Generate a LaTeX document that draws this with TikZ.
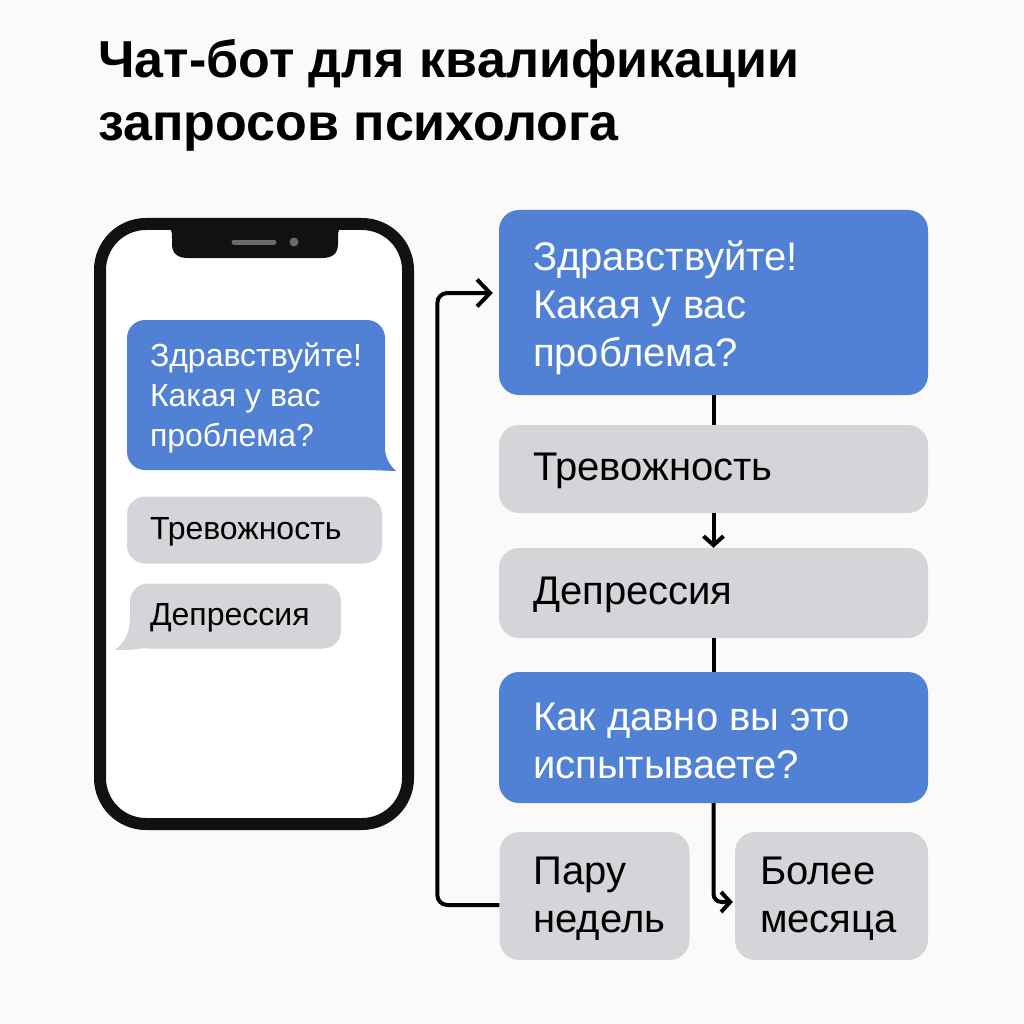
\documentclass[tikz,border=0pt]{standalone}
\usepackage{fontspec}
\setmainfont{Liberation Sans}
\usetikzlibrary{arrows.meta}
\definecolor{bg}{HTML}{FBFAF8}
\definecolor{bubbleblue}{HTML}{5081D5}
\definecolor{bubblegray}{HTML}{D4D5D8}
\definecolor{phoneblack}{HTML}{111111}
\definecolor{notchgray}{HTML}{6A6A6A}
\begin{document}
\begin{tikzpicture}[x=1pt,y=-1pt,
  flowbox/.style={rounded corners=20pt, inner sep=0pt, anchor=center},
  bluebox/.style={flowbox, fill=bubbleblue},
  graybox/.style={flowbox, fill=bubblegray},
  flowtext/.style={anchor=west, inner sep=0pt, align=left,
    font=\fontsize{40}{48}\selectfont},
  phonebubble/.style={rounded corners=18pt, inner sep=0pt, anchor=center},
  phonetext/.style={anchor=west, inner sep=0pt, align=left,
    font=\fontsize{32}{40}\selectfont},
  link/.style={line width=4pt, draw=black},
  tipsmall/.style={-{Straight Barb[length=9pt,width=20pt]}},
  tipbig/.style={-{Straight Barb[length=13pt,width=27pt]}}
]
\useasboundingbox (0,0) rectangle (1024,1024);
\fill[bg] (0,0) rectangle (1024,1024);

% title
\node[anchor=west, align=left, inner sep=0pt, font=\bfseries\fontsize{52}{63}\selectfont]
  (title) at (98,95) {Чат-бот для квалификации\\запросов психолога};

% phone
\draw[line width=12pt, draw=phoneblack, fill=white, rounded corners=46pt] (100,224) rectangle (408,824);
\fill[phoneblack] (164,224) .. controls (171,226) and (172,230) .. (172,238) -- (172,244)
  .. controls (172,254) and (178,258) .. (188,258) -- (322,258)
  .. controls (332,258) and (338,254) .. (338,244) -- (338,238)
  .. controls (338,230) and (339,226) .. (346,224) -- cycle;
\draw[notchgray, line width=5pt, line cap=round] (234,242) -- (274,242);
\fill[notchgray] (294,242) circle (4.5pt);

% phone bubbles
\fill[bubbleblue] (368,470) .. controls (382,470) .. (396,471)
  .. controls (386,462) and (384,452) .. (384,436) -- (368,436) -- cycle;
\node[phonebubble, fill=bubbleblue, minimum width=258pt, minimum height=150pt] (pq) at (256,395) {};
\node[phonetext, text=white] (pqt) at ([xshift=23pt, yshift=-3pt]pq.west) {Здравствуйте!\\Какая у вас\\проблема?};
\node[phonebubble, fill=bubblegray, minimum width=255pt, minimum height=67pt] (pa1) at (254.5,530) {};
\node[phonetext] (pa1t) at ([xshift=23pt, yshift=-2pt]pa1.west) {Тревожность};
\fill[bubblegray] (145,648) .. controls (130,650) .. (115,650)
  .. controls (125,642) and (130,632) .. (130,618) -- (145,618) -- cycle;
\node[phonebubble, fill=bubblegray, minimum width=211pt, minimum height=65pt] (pa2) at (235.5,616) {};
\node[phonetext] (pa2t) at ([xshift=20pt, yshift=-2pt]pa2.west) {Депрессия};

% flow
\node[bluebox, minimum width=429pt, minimum height=185pt] (b1) at (713.5,302.5) {};
\node[flowtext, text=white] (b1t) at ([xshift=34pt, yshift=-5pt]b1.west) {Здравствуйте!\\Какая у вас\\проблема?};
\node[graybox, minimum width=429pt, minimum height=88pt] (b2) at (713.5,469) {};
\node[flowtext] (b2t) at ([xshift=34pt, yshift=-2pt]b2.west) {Тревожность};
\node[graybox, minimum width=429pt, minimum height=90pt] (b3) at (713.5,593) {};
\node[flowtext] (b3t) at ([xshift=34pt, yshift=-2pt]b3.west) {Депрессия};
\node[bluebox, minimum width=429pt, minimum height=131pt] (b4) at (713.5,737.5) {};
\node[flowtext, text=white] (b4t) at ([xshift=34pt, yshift=-3pt]b4.west) {Как давно вы это\\испытываете?};
\node[graybox, minimum width=190pt, minimum height=128pt] (b5) at (594.5,896) {};
\node[flowtext] (b5t) at ([xshift=34pt, yshift=-3pt]b5.west) {Пару\\недель};
\node[graybox, minimum width=193pt, minimum height=128pt] (b6) at (831.5,896) {};
\node[flowtext] (b6t) at ([xshift=25pt, yshift=-3pt]b6.west) {Более\\месяца};

\draw[link] (b1.south) -- (b2.north);
\draw[link, tipsmall] (b2.south) -- (b3.north);
\draw[link] (b3.south) -- (b4.north);
\draw[link, tipsmall, rounded corners=8pt, shorten >=2pt] (b4.south) |- ([yshift=-6pt]b6.west);
\draw[link, tipbig, rounded corners=10pt, shorten >=6pt]
  ([yshift=-9pt]b5.west) -- ++(-62,0) |- ([yshift=9.5pt]b1.west);
\end{tikzpicture}
\end{document}
